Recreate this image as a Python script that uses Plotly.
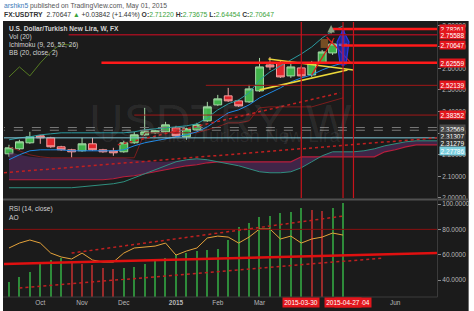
import plotly.graph_objects as go
import pandas as pd

W, H = 474, 311
ML, MR, MT, MB = 4, 32, 22, 14
PW = W - ML - MR
PH = H - MT - MB
FONT = "Liberation Sans, Arial, sans-serif"


def px(x):
    return (x - ML) / PW


def py(y):
    return (H - MB - y) / PH


# ---------------- data ----------------
dates = pd.date_range("2014-09-15", periods=33, freq="7D")
dates_ext = pd.date_range("2014-09-15", periods=42, freq="7D")

opens = [2.2039, 2.2271, 2.2549, 2.2873, 2.2780, 2.2364, 2.2225, 2.2178, 2.2503, 2.2225,
         2.2178, 2.2132, 2.2549, 2.2919, 2.3012, 2.3058, 2.3243, 2.2827, 2.3151, 2.3567,
         2.4308, 2.4725, 2.4493, 2.4447, 2.4956, 2.6160, 2.6252, 2.5650, 2.6021, 2.5697,
         2.6252, 2.6715, 2.7122]
highs = [2.2456, 2.2688, 2.3058, 2.2919, 2.2827, 2.2410, 2.2271, 2.2780, 2.2780, 2.2271,
         2.2317, 2.2641, 2.3058, 2.4169, 2.3151, 2.3521, 2.3336, 2.3243, 2.3475, 2.4447,
         2.4771, 2.5095, 2.4540, 2.5234, 2.6484, 2.6530, 2.6345, 2.6206, 2.6113, 2.6345,
         2.6854, 2.7317, 2.7368]
lows = [2.1901, 2.2224, 2.2503, 2.2503, 2.2317, 2.2178, 2.1854, 2.2132, 2.2178, 2.2086,
        2.1947, 2.2086, 2.2503, 2.2873, 2.2965, 2.3012, 2.2827, 2.2688, 2.3105, 2.3521,
        2.4262, 2.4447, 2.4215, 2.4401, 2.4910, 2.5928, 2.5558, 2.5558, 2.5558, 2.5604,
        2.6206, 2.6622, 2.6445]
closes = [2.2317, 2.2595, 2.2827, 2.2780, 2.2364, 2.2225, 2.2132, 2.2503, 2.2225, 2.2132,
          2.2086, 2.2549, 2.2919, 2.3058, 2.3105, 2.3382, 2.2873, 2.3197, 2.3382, 2.4215,
          2.4586, 2.4493, 2.4262, 2.5049, 2.6067, 2.6067, 2.5604, 2.6067, 2.5650, 2.6252,
          2.6762, 2.7132, 2.7065]

tenkan = [2.1762, 2.1993, 2.2178, 2.2225, 2.2225, 2.2225, 2.2178, 2.2178, 2.2178, 2.2178,
          2.2178, 2.2225, 2.2410, 2.2549, 2.2641, 2.2734, 2.2827, 2.2919, 2.3058, 2.3289,
          2.3613, 2.3938, 2.4076, 2.4308, 2.4632, 2.4864, 2.5095, 2.5373, 2.5558, 2.5697,
          2.5928, 2.6113, 2.6252]
kijun = ([2.2364, 2.2178, 2.1993, 2.1901] + [2.1854] * 9 + [2.3012] * 6 +
         [2.3151, 2.3289, 2.3475, 2.3475, 2.3567, 2.4169] + [2.4215] * 5 +
         [2.4354, 2.4493, 2.4632])
bb_upper = ([2.2687, 2.2780, 2.2827, 2.2919, 2.2965] + [2.3012] * 7 +
            [2.3058, 2.3151, 2.3197, 2.3243, 2.3289, 2.3336, 2.3428, 2.3706, 2.4076,
             2.4354, 2.4540, 2.4864, 2.5465, 2.5836, 2.6113, 2.6391, 2.6669, 2.6993,
             2.7410, 2.7734, 2.7965])
span_a = ([2.0466] * 7 +
          [2.0512, 2.0558, 2.0604, 2.0651, 2.0743, 2.0928, 2.1113, 2.1299, 2.1484, 2.1669,
           2.1762, 2.1808, 2.1762, 2.1669, 2.1576, 2.1484, 2.1345, 2.1206, 2.1160, 2.1160,
           2.1206, 2.1391, 2.1669, 2.1947, 2.2132, 2.2132, 2.2132, 2.2178, 2.2271, 2.2410,
           2.2503, 2.2595, 2.2641, 2.2641, 2.2641])
span_b = ([2.0836] * 10 +
          [2.0882, 2.0975, 2.1021, 2.1113, 2.1206, 2.1299, 2.1391, 2.1484, 2.1530, 2.1623] +
          [2.1669] * 8 + [2.1901] * 8 +
          [2.2132, 2.2225, 2.2364, 2.2456, 2.2456, 2.2456])
cloud_top_left = [2.2132, 2.1993, 2.1901] + [2.1854] * 9 + [2.1762, 2.1715, 2.1669, 2.1669,
                                                           2.1715, 2.1762, 2.1808]

rsi = [65.3, 69.2, 71.6, 69.2, 61.3, 58.2, 56.6, 61.3, 55.8, 54.2,
       54.2, 61.3, 65.3, 66.1, 66.8, 69.2, 59.7, 62.9, 65.3, 73.2,
       74.7, 73.9, 69.2, 73.9, 80.3, 80.3, 72.4, 74.7, 69.2, 72.4,
       73.9, 77.1, 75.5]
ao = [0.031, 0.042, 0.052, 0.069, 0.077, 0.081, 0.075, 0.069, 0.067, 0.060,
      0.058, 0.061, 0.063, 0.069, 0.077, 0.081, 0.0875, 0.092, 0.096, 0.098,
      0.099, 0.119, 0.146, 0.154, 0.167, 0.169, 0.175, 0.177, 0.185, 0.181,
      0.179, 0.185, 0.196]

month_ticks = ["2014-10-06", "2014-11-03", "2014-12-01", "2015-01-05", "2015-02-02",
               "2015-03-02", "2015-06-01"]
month_labels = ["Oct", "Nov", "Dec", "<b>2015</b>", "Feb", "Mar", "Jun"]
price_ticks = [2.0, 2.1, 2.2, 2.3, 2.4, 2.5, 2.6, 2.7, 2.8]
rsi_ticks = [40, 60, 80, 100]

# horizontal levels: (price, start date, colour, width)
levels = [(2.78261, "2015-04-20", "#ff1a1a", 2.5),
          (2.75588, "2014-10-25", "#9a1020", 1.5),
          (2.70647, "2015-04-26", "#ff1a1a", 2.5),
          (2.62559, "2014-11-16", "#ff1a1a", 2.5),
          (2.52139, "2015-01-25", "#a01818", 1),
          (2.38352, "2014-12-08", "#a01818", 1)]
grey_levels = [2.32569, 2.31307]
cyan_level = 2.27786
vlines = ["2015-03-30", "2015-04-27", "2015-05-04"]

X0, X1 = "2014-09-11 16:00", "2015-06-29"
BG = "#1b1b1b"

fig = go.Figure()

# Ichimoku cloud
cloud_top = cloud_top_left + span_a[19:]
fig.add_trace(go.Scatter(x=dates_ext, y=cloud_top, mode="lines",
                         line=dict(width=0, color="rgba(0,0,0,0)")))
fig.add_trace(go.Scatter(x=dates_ext, y=span_b, mode="lines", fill="tonexty",
                         fillcolor="rgba(95,45,110,0.55)",
                         line=dict(width=1.2, color="#b81e3c")))
fig.add_trace(go.Scatter(x=dates_ext, y=span_a, mode="lines",
                         line=dict(width=1, color="#2f8f7f")))
fig.add_trace(go.Scatter(x=dates, y=kijun, mode="lines", line=dict(width=1, color="#7d1d1d")))
fig.add_trace(go.Scatter(x=dates, y=bb_upper, mode="lines", line=dict(width=1, color="#2a9aa0")))
fig.add_trace(go.Scatter(x=dates, y=tenkan, mode="lines", line=dict(width=1, color="#1e88e5")))
fig.add_trace(go.Scatter(x=dates[:7], y=closes[26:], mode="lines",
                         line=dict(width=1, color="#557a22")))

fig.add_trace(go.Candlestick(
    x=dates, open=opens, high=highs, low=lows, close=closes,
    increasing=dict(line=dict(color="#a5d8a6", width=1), fillcolor="#3fb34a"),
    decreasing=dict(line=dict(color="#f2a0a0", width=1), fillcolor="#e0262b"),
    whiskerwidth=0))

# drawings (polygons / lines) in main pane
fig.add_trace(go.Scatter(x=["2015-04-12", "2015-04-17", "2015-04-17", "2015-04-12"],
                         y=[2.7364, 2.7364, 2.6947, 2.6947], fill="toself", mode="lines",
                         fillcolor="rgba(150,95,40,0.75)", line=dict(width=0)))
fig.add_trace(go.Scatter(x=["2015-03-08", "2015-05-04"], y=[2.6438, 2.5928], mode="lines",
                         line=dict(width=1.6, color="#ecd83a")))
fig.add_trace(go.Scatter(x=["2015-03-02", "2015-04-30"], y=[2.5002, 2.5928], mode="lines",
                         line=dict(width=1.6, color="#ecd83a")))
fig.add_trace(go.Scatter(x=["2015-04-06", "2015-04-21"], y=[2.5697, 2.7410], mode="lines",
                         line=dict(width=1.2, color="#e01818")))
fig.add_trace(go.Scatter(x=["2015-04-16", "2015-05-03"], y=[2.7456, 2.6206], mode="lines",
                         line=dict(width=1.2, color="#e01818")))
fig.add_trace(go.Scatter(x=["2015-04-27", "2015-05-01", "2015-04-29", "2015-04-25", "2015-04-23", "2015-04-27"],
                         y=[2.7780, 2.7225, 2.6206, 2.6206, 2.7225, 2.7780],
                         fill="toself", mode="lines", fillcolor="rgba(40,50,230,0.55)",
                         line=dict(width=1.2, color="#2a36e8")))
fig.add_trace(go.Scatter(x=["2015-04-27", "2015-04-27"], y=[2.7780, 2.6113], mode="lines",
                         line=dict(width=3, color="#2230f0")))

# lower pane: AO histogram (own hidden scale) and RSI line (right scale)
ao_colors = ["#2e8b3a"] + ["#2e8b3a" if ao[i] >= ao[i - 1] else "#9a2a2a" for i in range(1, len(ao))]
fig.add_trace(go.Bar(x=dates, y=ao, marker=dict(color=ao_colors, line=dict(width=0)),
                     width=0.8 * 86400000, xaxis="x2", yaxis="y2"))
fig.add_trace(go.Scatter(x=dates, y=rsi, mode="lines", line=dict(width=1, color="#e4a23a"),
                         xaxis="x3", yaxis="y3"))

fig.update_traces(showlegend=False, hoverinfo="skip")

shapes = []
# dark background
shapes.append(dict(type="rect", xref="paper", yref="paper", x0=px(3), x1=px(474),
                   y0=py(318), y1=py(21), fillcolor=BG, line=dict(width=0), layer="below"))
for p, d0, c, w in levels:
    shapes.append(dict(type="line", xref="x", yref="y", x0=d0, x1="2015-08-01", y0=p, y1=p,
                       line=dict(color=c, width=w)))
for p in grey_levels:
    shapes.append(dict(type="line", xref="x", yref="y", x0="2014-08-01", x1="2015-08-01",
                       y0=p, y1=p, line=dict(color="#7a7a7a", width=1, dash="dash")))
shapes.append(dict(type="line", xref="x", yref="y", x0="2014-08-01", x1="2015-08-01",
                   y0=cyan_level, y1=cyan_level, line=dict(color="#7fc8d8", width=1)))
for d in vlines:
    shapes.append(dict(type="line", xref="x", yref="y", x0=d, x1=d, y0=1.99, y1=2.82,
                       line=dict(color="#c8141c", width=1.2)))
# dotted trendlines main pane
shapes.append(dict(type="line", xref="x", yref="y", x0=X0, x1=X1, y0=2.1160, y1=2.2780,
                   line=dict(color="#c02020", width=1.5, dash="dot")))
shapes.append(dict(type="line", xref="x", yref="y", x0="2014-11-27", x1="2015-04-25",
                   y0=2.2456, y1=2.4864, line=dict(color="#c02020", width=1.5, dash="dot")))
# RSI pane lines
shapes.append(dict(type="line", xref="x3", yref="y3", x0=X0, x1=X1, y0=80, y1=80,
                   line=dict(color="#8b1010", width=1)))
shapes.append(dict(type="line", xref="x3", yref="y3", x0=X0, x1=X1, y0=52.6, y1=61.3,
                   line=dict(color="#e01010", width=2.5)))
shapes.append(dict(type="line", xref="x3", yref="y3", x0="2014-10-27", x1="2015-04-27",
                   y0=61.3, y1=90.5, line=dict(color="#c02020", width=1.5, dash="dot")))
shapes.append(dict(type="line", xref="x3", yref="y3", x0="2014-09-22", x1="2015-05-24",
                   y0=33.7, y1=57.4, line=dict(color="#c02020", width=1.5, dash="dot")))
# frame lines
shapes.append(dict(type="line", xref="paper", yref="paper", x0=px(3), x1=px(474),
                   y0=py(199.5), y1=py(199.5), line=dict(color="#505050", width=2)))
shapes.append(dict(type="line", xref="paper", yref="paper", x0=px(442.5), x1=px(442.5),
                   y0=py(297), y1=py(21), line=dict(color="#3c3c3c", width=1)))
shapes.append(dict(type="line", xref="paper", yref="paper", x0=px(3), x1=px(442.5),
                   y0=py(297), y1=py(297), line=dict(color="#3c3c3c", width=1)))

ann = []
# watermark
ann.append(dict(xref="paper", yref="paper", x=0.5, y=py(93), text="USDTRY, W",
                font=dict(size=48, color="rgba(255,255,255,0.075)"), showarrow=False))
ann.append(dict(xref="paper", yref="paper", x=0.5, y=py(135), text="U.S. Dollar/Turkish New Lira",
                font=dict(size=19, color="rgba(255,255,255,0.07)"), showarrow=False))
# header
ann.append(dict(xref="paper", yref="paper", x=px(2), y=py(6), xanchor="left", yanchor="middle",
                text='<span style="color:#3d7ab8">arshkn5</span> published on TradingView.com, May 01, 2015',
                font=dict(size=6.8, color="#555555"), showarrow=False))
g = '<span style="color:#3aa33a">%s</span>'
ann.append(dict(xref="paper", yref="paper", x=px(2), y=py(15.5), xanchor="left", yanchor="middle",
                text='<b>FX:USDTRY</b>  2.70647 ' + g % '▲' + ' +0.03842 (+1.44%) '
                     '<b>O:</b>' + g % '2.71220' + ' <b>H:</b>' + g % '2.73675' +
                     ' <b>L:</b>' + g % '2.64454' + ' <b>C:</b>' + g % '2.70647',
                font=dict(size=6.8, color="#333333"), showarrow=False))
# pane legends
legend_lines = [("<b>U.S. Dollar/Turkish New Lira, W, FX</b>", 29), ("Vol (20)", 37),
                ("Ichimoku (9, 26, 52, 26)", 45), ("BB (20, close, 2)", 53),
                ("RSI (14, close)", 209), ("AO", 217)]
for t, yy in legend_lines:
    ann.append(dict(xref="paper", yref="paper", x=px(7), y=py(yy), xanchor="left", yanchor="middle",
                    text=t, font=dict(size=6.6, color="#d4d4d4"), showarrow=False))
# price labels
for p, _, _, _ in levels:
    ann.append(dict(xref="paper", yref="y", x=1, xshift=2, y=p, xanchor="left", yanchor="middle",
                    text=f"{p:.5f}", font=dict(size=6.5, color="white"), bgcolor="#e3161d",
                    borderpad=0.6, showarrow=False))
for txt, yy, bg in [("2.32569", 128.5, "#4a4a4a"), ("2.31307", 136, "#3a3a3a"),
                    ("2.31279", 143, "#333333"), ("2.27786", 150.5, "#7ccfe0")]:
    ann.append(dict(xref="paper", yref="paper", x=1, xshift=2, y=py(yy), xanchor="left",
                    yanchor="middle", text=txt, font=dict(size=6.5, color="white"), bgcolor=bg,
                    borderpad=0.6, showarrow=False))
# date labels
for txt, d in [("2015-03-30", "2015-03-30"), ("2015-05-04", "2015-05-04"), ("2015-04-27", "2015-04-27")]:
    ann.append(dict(xref="x2", yref="paper", x=d, y=0, yshift=-5, yanchor="middle",
                    text=txt, font=dict(size=6.5, color="white"), bgcolor="#e3161d",
                    borderpad=1.2, showarrow=False))
# arrow drawing
ann.append(dict(xref="x", yref="y", axref="x", ayref="y", x="2015-04-19", y=2.8012,
                ax="2015-04-19", ay=2.7549, text="", showarrow=True, arrowhead=2,
                arrowsize=1, arrowwidth=1.5, arrowcolor="#8aa080"))

axfont = dict(size=6.5, color="#b8b8b8", family=FONT)
low_dom = [0, py(201)]
fig.update_layout(
    width=W, height=H, autosize=False,
    margin=dict(l=ML, r=MR, t=MT, b=MB, pad=0),
    paper_bgcolor="white", plot_bgcolor="rgba(0,0,0,0)",
    font=dict(family=FONT),
    showlegend=False, hovermode=False, bargap=0, boxgap=0.25, boxgroupgap=0,
    shapes=shapes, annotations=ann,
    xaxis=dict(domain=[0, 1], anchor="y", type="date", range=[X0, X1], showticklabels=False,
               showgrid=False, zeroline=False, showline=False, rangeslider=dict(visible=False)),
    yaxis=dict(domain=[py(198), 1], anchor="x", range=[1.999, 2.815], side="right",
               tickvals=price_ticks, ticktext=[f"{v:.5f}" for v in price_ticks],
               tickfont=axfont, ticks="outside", ticklen=3, tickcolor="#888",
               showgrid=False, zeroline=False, showline=False),
    xaxis2=dict(domain=[0, 1], anchor="y2", type="date", range=[X0, X1],
                tickvals=month_ticks, ticktext=month_labels, tickfont=axfont,
                showgrid=False, zeroline=False, showline=False, ticks=""),
    yaxis2=dict(domain=low_dom, anchor="x2", range=[0, 0.2], autorange=False,
                showticklabels=False, showgrid=False, zeroline=False, showline=False, ticks=""),
    xaxis3=dict(domain=[0, 1], anchor="y3", type="date", range=[X0, X1],
                showticklabels=False, showgrid=False, zeroline=False, showline=False, ticks=""),
    yaxis3=dict(domain=low_dom, anchor="x3", range=[26.6, 102.4], side="right",
                tickvals=rsi_ticks, ticktext=[f"{v:.4f}" for v in rsi_ticks],
                tickfont=axfont, ticks="outside", ticklen=3, tickcolor="#888",
                showgrid=False, zeroline=False, showline=False),
)

fig.write_html("out.html")
